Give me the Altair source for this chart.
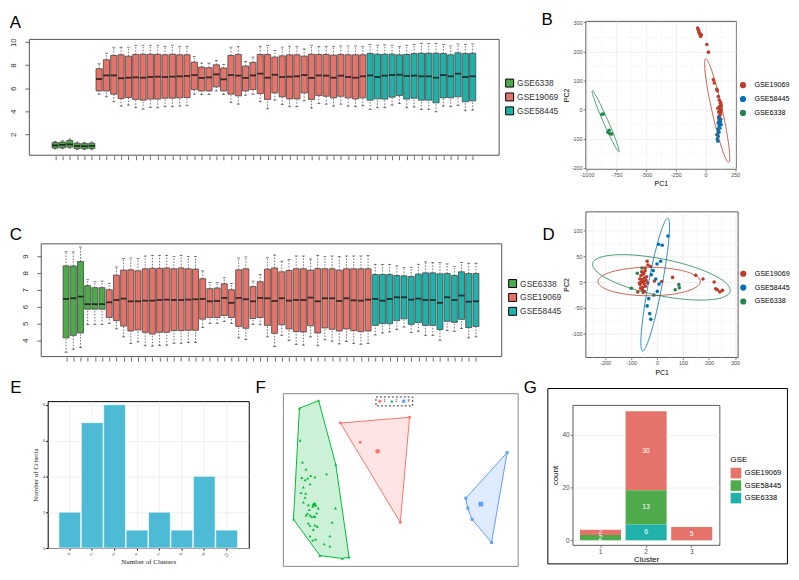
import numpy as np
import pandas as pd
import altair as alt

SANS = "Liberation Sans"
SERIF = "Liberation Serif"

GREEN = "#4FAA4B"
SALMON = "#E5736A"
TEAL = "#20B2AA"
N_RED = "#BC3C29"
N_BLUE = "#0072B5"
N_GREEN = "#20854E"

# ---------------- Panel A (boxplots, raw) ----------------
A_groups = ["GSE6338", "GSE19069", "GSE58445"]
A_sizes = [6, 37, 15]
A_high = [1.38, 1.42, 1.58, 1.32, 1.30, 1.32,
          8.12, 9.04, 9.56, 9.56, 9.56, 9.70, 9.73, 9.73, 9.73, 9.64, 9.73, 9.64, 9.64, 8.75, 8.18, 8.18, 8.41, 8.06, 9.56,
          9.64, 8.32, 8.70, 9.64, 9.70, 9.27, 9.56, 9.64, 9.64, 9.41, 9.73, 9.61, 9.64, 9.61, 9.67, 9.67, 9.67, 9.64,
          9.79, 9.73, 9.76, 9.73, 9.61, 9.73, 9.79, 9.87, 9.87, 9.90, 9.79, 9.67, 9.84, 9.82, 9.84]
A_q3 = [1.28, 1.32, 1.45, 1.22, 1.20, 1.22,
        7.69, 8.47, 8.84, 8.90, 8.78, 8.93, 8.95, 8.95, 8.95, 8.90, 8.95, 8.90, 8.90, 8.26, 7.83, 7.78, 8.03, 7.75, 8.84,
        8.93, 7.92, 8.24, 8.93, 8.93, 8.70, 8.81, 8.90, 8.90, 8.78, 8.95, 8.93, 8.93, 8.87, 8.93, 8.90, 8.90, 8.90,
        9.01, 8.95, 8.95, 8.95, 8.90, 8.93, 9.01, 9.04, 9.04, 9.04, 9.01, 8.90, 9.07, 9.01, 9.04]
A_med = [1.03, 1.08, 1.12, 0.98, 0.96, 0.98,
         6.80, 7.11, 7.11, 6.86, 6.91, 6.94, 6.91, 6.97, 7.00, 6.97, 7.00, 7.03, 7.06, 7.14, 6.89, 6.94, 7.20, 6.77, 7.14,
         7.09, 6.89, 7.11, 7.26, 6.91, 7.17, 6.97, 7.00, 7.03, 7.14, 6.89, 7.11, 7.09, 6.91, 7.09, 6.97, 6.91, 7.03,
         7.11, 6.97, 7.09, 7.14, 7.17, 7.06, 7.09, 7.03, 7.03, 6.91, 7.14, 7.03, 7.26, 6.97, 7.03]
A_q1 = [0.80, 0.82, 0.88, 0.75, 0.74, 0.76,
        5.76, 5.76, 5.48, 5.10, 5.19, 5.02, 4.96, 5.05, 5.05, 5.13, 5.13, 5.16, 5.19, 5.88, 5.76, 5.76, 6.11, 5.76, 5.48,
        5.33, 5.76, 5.88, 5.53, 5.02, 5.59, 5.25, 5.07, 5.07, 5.59, 5.02, 5.36, 5.30, 5.16, 5.30, 5.16, 5.07, 5.16,
        4.96, 5.07, 5.05, 5.22, 5.36, 5.05, 5.13, 4.96, 4.96, 4.73, 5.16, 5.16, 5.25, 4.82, 4.90]
A_low = [0.72, 0.74, 0.80, 0.66, 0.66, 0.68,
         5.48, 5.25, 4.82, 4.44, 4.53, 4.30, 4.18, 4.33, 4.30, 4.39, 4.39, 4.44, 4.47, 5.48, 5.45, 5.45, 5.76, 5.45, 4.76,
         4.61, 5.39, 5.48, 4.82, 4.21, 4.96, 4.59, 4.39, 4.39, 4.90, 4.27, 4.67, 4.61, 4.44, 4.61, 4.44, 4.39, 4.47,
         4.16, 4.30, 4.30, 4.53, 4.67, 4.30, 4.36, 4.16, 4.16, 3.95, 4.44, 4.39, 4.50, 4.04, 4.10]

# ---------------- Panel C (boxplots, normalized) ----------------
C_high = [9.25, 9.24, 9.53, 7.59, 7.47, 7.51,
          7.37, 8.35, 8.84, 8.88, 8.84, 9.00, 9.04, 9.04, 9.04, 8.96, 9.04, 8.98, 8.96, 8.12, 7.43, 7.43, 7.71, 7.37, 8.88,
          8.94, 7.51, 7.90, 8.90, 9.06, 8.69, 8.80, 9.00, 9.00, 8.82, 9.04, 8.96, 9.00, 8.96, 9.00, 9.00, 9.00, 9.02,
          8.51, 8.49, 8.49, 8.41, 8.31, 8.31, 8.51, 8.65, 8.61, 8.61, 8.53, 8.37, 8.61, 8.57, 8.57]
C_q3 = [8.41, 8.41, 8.67, 7.24, 7.12, 7.12,
        7.00, 7.86, 8.16, 8.18, 8.12, 8.24, 8.27, 8.27, 8.29, 8.24, 8.29, 8.24, 8.22, 7.65, 7.06, 7.10, 7.35, 7.00, 8.18,
        8.24, 7.18, 7.47, 8.22, 8.29, 8.06, 8.14, 8.24, 8.24, 8.16, 8.25, 8.24, 8.24, 8.16, 8.24, 8.24, 8.24, 8.24,
        7.90, 7.90, 7.90, 7.84, 7.82, 7.78, 7.92, 8.00, 8.00, 7.94, 7.96, 7.84, 8.06, 7.96, 7.96]
C_med = [6.45, 6.49, 6.59, 6.14, 6.14, 6.14,
         6.25, 6.39, 6.47, 6.31, 6.31, 6.35, 6.35, 6.39, 6.41, 6.39, 6.39, 6.41, 6.43, 6.45, 6.31, 6.33, 6.51, 6.22, 6.51,
         6.43, 6.31, 6.51, 6.49, 6.33, 6.49, 6.35, 6.39, 6.39, 6.53, 6.31, 6.49, 6.49, 6.33, 6.49, 6.37, 6.35, 6.41,
         6.45, 6.35, 6.45, 6.55, 6.55, 6.41, 6.47, 6.39, 6.39, 6.22, 6.55, 6.39, 6.65, 6.29, 6.31]
C_q1 = [4.14, 4.29, 4.43, 5.84, 5.84, 5.84,
        5.35, 5.16, 4.84, 4.55, 4.61, 4.47, 4.37, 4.47, 4.47, 4.57, 4.57, 4.59, 4.59, 5.25, 5.35, 5.35, 5.47, 5.35, 4.82,
        4.71, 5.29, 5.35, 4.88, 4.41, 4.92, 4.67, 4.51, 4.49, 4.86, 4.43, 4.73, 4.65, 4.55, 4.67, 4.57, 4.51, 4.55,
        4.88, 4.98, 4.98, 5.16, 5.27, 4.94, 5.04, 4.88, 4.88, 4.63, 5.12, 5.06, 5.24, 4.75, 4.82]
C_low = [3.29, 3.47, 3.57, 4.94, 4.94, 4.94,
         5.00, 4.67, 4.20, 3.80, 3.90, 3.67, 3.65, 3.69, 3.71, 3.82, 3.82, 3.86, 3.86, 4.76, 5.00, 5.00, 5.12, 5.00, 4.14,
         4.04, 4.94, 4.92, 4.20, 3.63, 4.29, 3.98, 3.75, 3.71, 4.20, 3.67, 4.02, 3.94, 3.78, 3.92, 3.80, 3.76, 3.80,
         4.31, 4.43, 4.49, 4.63, 4.78, 4.45, 4.53, 4.29, 4.29, 4.00, 4.57, 4.53, 4.69, 4.14, 4.20]

# ---------------- Panels B / D (PCA) ----------------
PCA_groups = ["GSE19069", "GSE58445", "GSE6338"]
B_x = {
    "GSE19069": [-66, -58, -50, -41, -55, -36, 11, 25, 66, 74, 99, 115, 126, 121, 132, 110, 124, 110, 129, 113, 118, 132, 104,
                 -62, -47, 120, 128, 118, 125, 131, 116, 122, 127, 108, 95, 120, 113],
    "GSE58445": [115, 121, 107, 115, 104, 110, 102, 107, 99, 104, 126, 132, 121, 113, 96],
    "GSE6338": [-874, -863, -813, -805, -791, -824],
}
B_y = {
    "GSE19069": [281, 272, 260, 252, 266, 258, 224, 198, 103, 92, 65, 33, 22, 8, -1, -8, -16, -26, -33, -41, -49, 16, 5,
                 276, 262, 12, -10, -20, 0, 10, -35, -45, 25, 45, 70, -5, -30],
    "GSE58445": [-26, -35, -46, -56, -67, -75, -84, -92, -101, -109, -41, -52, -64, -78, -86],
    "GSE6338": [-16, -15, -71, -83, -84, -78],
}
# ellipse: centre (cx, cy), semi-axis vectors a=(ax, ay), b=(bx, by)
B_ell = {"GSE19069": (98, -3, 96, -178, 45, 0), "GSE6338": (-843, -40, -112, 105, 22, 0)}

D_x = {
    "GSE19069": [-38, -35, -25, -51, -46, 60, 149, 177, 220, 226, 232, 242, 252, 18, -10, -74,
                 -65, -60, -58, -55, -52, -50, -48, -62, -57, -54, -45, -42, -66, -63, -49, -40, -36, -59, -68, -53, -46],
    "GSE58445": [42, 6, 20, 14, 0, -15, -22, -5, 8, 1, -12, -32, -38, -28, -24],
    "GSE6338": [-76, -99, -58, 70, 84, 86],
}
D_y = {
    "GSE19069": [40, 33, 30, 17, 27, 9, 13, 6, 0, -13, -15, -19, -16, 1, 2, -19,
                 -5, 0, 5, -10, 2, -3, 8, 12, -15, 15, -8, 3, 6, -12, -18, 10, -2, 20, -2, -20, 22],
    "GSE58445": [89, 73, 71, 40, 35, 22, 14, 6, -4, -18, -25, -32, -46, -61, -72],
    "GSE6338": [17, -12, 27, -15, -5, -11],
}
D_ell = {"GSE19069": (-30, 1, 197, 0, 0, 27.5), "GSE58445": (-7, -5, 48, 128, 27, 0),
         "GSE6338": (17, 9, 265, -25, 0, 36)}

# ---------------- Panel E ----------------
E_clusters = ["0", "2", "3", "4", "5", "6", "9", "15"]
E_counts = [2, 7, 8, 1, 2, 1, 4, 1]

# ---------------- Panel F (cluster map) ----------------
F_x = {
    "1": [17.4, 38.3, 35.5, 23.4],
    "2": [5.2, 5.9, 7.0, 5.7, 6.7, 7.5, 8.4, 9.7, 13.2, 6.2, 8.2, 5.5, 6.9, 6.7, 6.2, 7.7, 9.2, 9.7, 9.0, 10.0, 10.7,
          7.4, 8.2, 8.7, 9.4, 7.0, 9.7, 7.7, 14.9, 8.2, 9.7, 10.4, 9.2, 14.2, 8.2, 9.0, 9.9, 12.5, 14.2, 15.9, 8.0, 10.2,
          5.0, 10.8, 16.0, 20.0, 18.0, 11.2, 3.2],
    "3": [67.8, 63.1, 57.2, 55.9, 55.3],
}
F_y = {
    "1": [44.5, 46.3, 13.5, 38.5],
    "2": [39.1, 32.3, 30.1, 27.5, 26.8, 27.3, 28.1, 27.7, 28.6, 24.5, 25.5, 22.8, 22.6, 21.3, 19.8, 19.0, 19.3, 19.5,
          18.5, 18.8, 18.0, 16.3, 15.8, 15.3, 15.5, 15.8, 15.3, 13.3, 13.6, 12.6, 12.7, 12.3, 11.3, 9.3, 9.3, 8.0, 8.3,
          6.8, 6.1, 18.0, 17.5, 16.5, 49.1, 51.5, 31.5, 2.7, 2.3, 3.2, 14.5],
    "3": [35.3, 7.3, 14.5, 18.0, 21.1],
}
F_colors = {"1": "#F8766D", "2": "#00BA38", "3": "#619CFF"}
F_shapes = {"1": "circle", "2": "triangle-up", "3": "square"}

# ---------------- Panel G ----------------
G_cluster = ["1", "1", "2", "2", "2", "3"]
G_gse = ["GSE19069", "GSE58445", "GSE19069", "GSE58445", "GSE6338", "GSE19069"]
G_count = [2, 2, 30, 13, 6, 5]
G_levels = ["GSE19069", "GSE58445", "GSE6338"]
G_colors = [SALMON, GREEN, TEAL]


def letter(t, dx, offset):
    return alt.TitleParams(t, anchor="start", frame="group", dx=dx, offset=offset, fontSize=17,
                           font=SANS, fontWeight="normal", color="black")


def spacer(w, h):
    return alt.Chart(pd.DataFrame({"s": [0]})).mark_point(size=0, opacity=0).encode(
        x=alt.X("s:Q", axis=None), y=alt.Y("s:Q", axis=None)
    ).properties(width=w, height=h, view=alt.ViewBackground(stroke="transparent"))


def anchor(w, h, top):
    # invisible layout anchor: fixes the top edge of the whole figure
    return alt.Chart(pd.DataFrame({"s": [0]})).mark_point(size=1, opacity=0, filled=True, strokeWidth=0).encode(
        x=alt.value(0), y=alt.value(top)
    ).properties(width=w, height=h, view=alt.ViewBackground(stroke="transparent"))


RES = dict(x="independent", y="independent", color="independent", shape="independent",
           stroke="independent", fill="independent")


def box_panel(low, q1, med, q3, high, xdom, ydom, yticks, w, h, bw, lx, ly, title):
    grp = [g for g, n in zip(A_groups, A_sizes) for _ in range(n)]
    n = len(med)
    df = pd.DataFrame({"i": np.arange(1, n + 1), "grp": grp, "low": low, "q1": q1,
                       "med": med, "q3": q3, "high": high})
    x = alt.X("i:Q", scale=alt.Scale(domain=xdom, nice=False, zero=False),
              axis=alt.Axis(values=list(range(1, n + 1)), labels=False, domain=False, grid=False,
                            tickSize=4, tickColor="#444", tickWidth=0.8, offset=1, title=None))
    ysc = alt.Scale(domain=ydom, nice=False, zero=False)
    yax = alt.Axis(values=yticks, labelAngle=-90, labelAlign="center", labelBaseline="bottom", grid=False,
                   domain=False, tickSize=4, tickColor="#444", tickWidth=0.8, labelPadding=7, labelFontSize=8,
                   labelColor="#333", labelFont=SANS, title=None)

    def Y(f):
        return alt.Y(f, scale=ysc, axis=yax)

    base = alt.Chart(df)
    wl = base.mark_rule(strokeDash=[1.5, 1.5], color="#333", strokeWidth=0.7).encode(x=x, y=Y("low:Q"), y2="q1:Q")
    wh = base.mark_rule(strokeDash=[1.5, 1.5], color="#333", strokeWidth=0.7).encode(x=x, y=Y("q3:Q"), y2="high:Q")
    cl = base.mark_tick(orient="horizontal", size=3, thickness=0.8, color="#222").encode(x=x, y=Y("low:Q"))
    ch = base.mark_tick(orient="horizontal", size=3, thickness=0.8, color="#222").encode(x=x, y=Y("high:Q"))
    box = base.mark_bar(width=bw, stroke="#444", strokeWidth=0.8).encode(
        x=x, y=Y("q1:Q"), y2="q3:Q",
        color=alt.Color("grp:N", scale=alt.Scale(domain=A_groups, range=[GREEN, SALMON, TEAL]),
                        legend=alt.Legend(orient="none", legendX=lx, legendY=ly, title=None, symbolType="square",
                                          symbolSize=64, symbolStrokeColor="black", symbolStrokeWidth=1,
                                          labelFontSize=8.5, labelFont=SANS, labelColor="#333", labelOffset=3,
                                          rowPadding=1, padding=0)))
    md = base.mark_tick(orient="horizontal", size=bw, thickness=1.8, color="black").encode(x=x, y=Y("med:Q"))
    return alt.layer(wl, wh, cl, ch, box, md).properties(
        width=w, height=h, view=alt.ViewBackground(stroke="#555", strokeWidth=1), title=title)


def num_axis(title, majors, minors, lab_fs=5.5, tfs=7, tpad=2):
    vals = sorted(majors + minors)
    mj = "[" + ",".join(str(v) for v in majors) + "]"
    return alt.Axis(values=vals, labelExpr=f"indexof({mj}, datum.value) >= 0 ? '' + datum.value : ''",
                    labelOverlap=False, labelFlush=False,
                    tickColor={"condition": {"test": f"indexof({mj}, datum.value) < 0", "value": "transparent"},
                               "value": "#333333"},
                    gridColor={"condition": {"test": f"indexof({mj}, datum.value) < 0", "value": "#F3F3F3"},
                               "value": "#E6E6E6"},
                    gridWidth=0.6, domain=False, tickSize=2.5, tickWidth=0.6, labelFontSize=lab_fs,
                    labelColor="#4D4D4D", labelPadding=1, labelFont=SANS, title=title, titleFontSize=tfs,
                    titleFont=SANS, titleFontWeight="normal", titleColor="black", titlePadding=tpad)


def ell_points(p):
    cx, cy, ax, ay, bx, by = p
    t = np.linspace(0, 2 * np.pi, 121)
    return cx + ax * np.cos(t) + bx * np.sin(t), cy + ay * np.cos(t) + by * np.sin(t)


def pca_panel(px, py, ells, xdom, ydom, xmaj, xmin, ymaj, ymin, w, h, lx, ly, title):
    rows = []
    for g in PCA_groups:
        for a, b in zip(px[g], py[g]):
            rows.append({"x": a, "y": b, "g": g})
    dfp = pd.DataFrame(rows)
    erows = []
    for g, p in ells.items():
        ex, ey = ell_points(p)
        for k, (a, b) in enumerate(zip(ex, ey)):
            erows.append({"x": a, "y": b, "g": g, "o": k})
    dfe = pd.DataFrame(erows)
    X = alt.X("x:Q", scale=alt.Scale(domain=xdom, nice=False, zero=False), axis=num_axis("PC1", xmaj, xmin))
    Yc = alt.Y("y:Q", scale=alt.Scale(domain=ydom, nice=False, zero=False), axis=num_axis("PC2", ymaj, ymin))
    sc = alt.Scale(domain=PCA_groups, range=[N_RED, N_BLUE, N_GREEN])
    pts = alt.Chart(dfp).mark_circle(size=13, opacity=1).encode(
        x=X, y=Yc,
        color=alt.Color("g:N", scale=sc,
                        legend=alt.Legend(orient="none", legendX=lx, legendY=ly, title=None, symbolType="circle",
                                          symbolSize=22, labelFontSize=7.2, labelFont=SANS, labelColor="black",
                                          labelOffset=8, rowPadding=3, padding=0)))
    el = alt.Chart(dfe).mark_line(strokeWidth=0.8).encode(
        x=X, y=Yc, stroke=alt.Stroke("g:N", scale=sc, legend=None), order="o:Q", detail="g:N")
    return alt.layer(pts, el).properties(width=w, height=h,
                                         view=alt.ViewBackground(stroke="#333", strokeWidth=0.8), title=title)


# ---- A, C
chartA = box_panel(A_low, A_q1, A_med, A_q3, A_high, [-1.918, 60.87], [0.22, 10.28], [2, 4, 6, 8, 10],
                   473.4, 116.7, 6.2, 480, 40, letter("A", -19.3, 5.8))
chartC = box_panel(C_low, C_q1, C_med, C_q3, C_high, [-1.836, 60.83], [3.06, 9.75], [4, 5, 6, 7, 8, 9],
                   464, 113.6, 6.0, 471, 36, letter("C", -31.3, -0.9))

# ---- B, D
chartB = pca_panel(B_x, B_y, B_ell, [-1012, 258], [-204, 305],
                   [-1000, -750, -500, -250, 0, 250], [-875, -625, -375, -125, 125],
                   [-200, -100, 0, 100, 200, 300], [-150, -50, 50, 150, 250],
                   151.7, 149, 155, 61, letter("B", -44.3, -8.3))
chartD = pca_panel(D_x, D_y, D_ell, [-275, 311], [-145, 136],
                   [-200, -100, 0, 100, 200, 300], [-250, -150, -50, 50, 150, 250],
                   [-100, -50, 0, 50, 100], [-125, -75, -25, 25, 75, 125],
                   153.4, 146.7, 155.3, 59, letter("D", -43.3, -32.6))

# ---- E
dfE = pd.DataFrame({"k": E_clusters, "v": E_counts})
chartE = alt.Chart(dfE).mark_bar(color="#4DBBD5", stroke="white", strokeWidth=0.6).encode(
    x=alt.X("k:N", sort=E_clusters, scale=alt.Scale(paddingInner=0.03, paddingOuter=0.5),
            axis=alt.Axis(labelAngle=45, labelFontSize=4.5, labelFont=SERIF, labelColor="#333", tickSize=2,
                          tickColor="black", domain=False, grid=True, gridColor="#E5E5E5", gridWidth=0.6,
                          labelPadding=1, title="Number of Clusters", titleFont=SERIF, titleFontSize=7,
                          titleFontWeight="normal", titleColor="#222", titlePadding=0)),
    y=alt.Y("v:Q", scale=alt.Scale(domain=[0, 8.2], nice=False),
            axis=alt.Axis(values=[0, 2, 4, 6, 8], labelFontSize=4.5, labelFont=SERIF, labelColor="#333",
                          tickSize=2, tickColor="black", domain=False, grid=True, gridColor="#E5E5E5",
                          gridWidth=0.6, labelPadding=1, title="Number of Criteria", titleFont=SERIF,
                          titleFontSize=7, titleFontWeight="normal", titleColor="#222", titlePadding=4)),
).properties(width=202.6, height=148, view=alt.ViewBackground(stroke="black", strokeWidth=1),
             title=letter("E", -37.7, 3.7))


# ---- F
def convex_hull(xs, ys):
    pts = sorted(set(zip(xs, ys)))

    def cross(o, a, b):
        return (a[0] - o[0]) * (b[1] - o[1]) - (a[1] - o[1]) * (b[0] - o[0])

    lower, upper = [], []
    for p in pts:
        while len(lower) >= 2 and cross(lower[-2], lower[-1], p) <= 0:
            lower.pop()
        lower.append(p)
    for p in reversed(pts):
        while len(upper) >= 2 and cross(upper[-2], upper[-1], p) <= 0:
            upper.pop()
        upper.append(p)
    return lower[:-1] + upper[:-1]


prow, crow = [], []
for c in ["1", "2", "3"]:
    for a, b in zip(F_x[c], F_y[c]):
        prow.append({"x": a, "y": b, "cl": c})
    crow.append({"x": float(np.mean(F_x[c])), "y": float(np.mean(F_y[c])), "cl": c})
dfF = pd.DataFrame(prow)
dfFc = pd.DataFrame(crow)
FX = alt.X("x:Q", scale=alt.Scale(domain=[0, 71], nice=False, zero=False), axis=None)
FY = alt.Y("y:Q", scale=alt.Scale(domain=[0, 53.8], nice=False, zero=False), axis=None)
f_leg = alt.Legend(orient="none", legendX=93.3, legendY=3.3, direction="horizontal", title=None,
                   strokeColor="#333", padding=2, labelFontSize=4, symbolSize=10, labelOffset=1,
                   columnPadding=3, labelFont=SANS)
fcol = alt.Color("cl:N", scale=alt.Scale(domain=["1", "2", "3"], range=[F_colors[c] for c in "123"]), legend=f_leg)
fshp = alt.Shape("cl:N", scale=alt.Scale(domain=["1", "2", "3"], range=[F_shapes[c] for c in "123"]), legend=f_leg)
f_layers = []
for c in ["1", "2", "3"]:
    hp = convex_hull(F_x[c], F_y[c])
    dfh = pd.DataFrame({"x": [p[0] for p in hp], "y": [p[1] for p in hp], "o": list(range(len(hp)))})
    f_layers.append(alt.Chart(dfh).mark_line(interpolate="linear-closed", fill=F_colors[c], fillOpacity=0.2,
                                             stroke=F_colors[c], strokeWidth=1).encode(x=FX, y=FY, order="o:Q"))
f_layers.append(alt.Chart(dfF).mark_point(filled=True, size=9, opacity=1).encode(x=FX, y=FY, color=fcol, shape=fshp))
f_layers.append(alt.Chart(dfFc).mark_point(filled=True, size=22, opacity=1).encode(x=FX, y=FY, color=fcol, shape=fshp))
chartF = alt.layer(*f_layers).properties(width=236.6, height=174,
                                         view=alt.ViewBackground(stroke="#888", strokeWidth=1),
                                         title=letter("F", -27.7, -3.9))

# ---- G
dfG = pd.DataFrame({"cl": G_cluster, "gse": G_gse, "n": G_count})
gbase = alt.Chart(dfG).transform_calculate(
    ord="indexof(['GSE6338','GSE58445','GSE19069'], datum.gse)"
).transform_stack(stack="n", groupby=["cl"], sort=[alt.SortField("ord", order="ascending")], as_=["y0", "y1"]
                  ).transform_calculate(mid="(datum.y0 + datum.y1) / 2")
GX = alt.X("cl:N", scale=alt.Scale(paddingInner=0.1, paddingOuter=0.16),
           axis=alt.Axis(labelAngle=0, labelFontSize=6.5, labelColor="#4D4D4D", tickSize=2.5, tickColor="#333",
                         tickWidth=0.6, domain=False, gridColor="#EBEBEB", gridWidth=0.6, labelPadding=1,
                         title="Cluster", titleFontSize=8, titleFontWeight="normal", titleColor="black",
                         titlePadding=1, labelFont=SANS, titleFont=SANS))
GY = alt.Y("y0:Q", scale=alt.Scale(domain=[-1.8, 51.3], nice=False, zero=False),
           axis=alt.Axis(values=list(range(0, 55, 5)), labelExpr="datum.value % 10 == 0 ? '' + datum.value : ''",
                         labelOverlap=False,
                         tickColor={"condition": {"test": "datum.value % 10 != 0", "value": "transparent"},
                                    "value": "#333333"},
                         gridColor={"condition": {"test": "datum.value % 10 != 0", "value": "#F3F3F3"},
                                    "value": "#E6E6E6"},
                         gridWidth=0.6, domain=False, tickSize=2.5, tickWidth=0.6, labelFontSize=6.5,
                         labelColor="#4D4D4D", labelPadding=1, title="count", titleFontSize=8,
                         titleFontWeight="normal", titleColor="black", titlePadding=3, labelFont=SANS,
                         titleFont=SANS))
gbars = gbase.mark_bar().encode(
    x=GX, y=GY, y2="y1:Q",
    color=alt.Color("gse:N", scale=alt.Scale(domain=G_levels, range=G_colors),
                    legend=alt.Legend(orient="none", legendX=159, legendY=51, title="GSE", titleFontSize=8,
                                      titleFontWeight="normal", titleColor="black", titlePadding=4,
                                      titleFont=SANS, symbolType="square", symbolSize=114, symbolStrokeWidth=0,
                                      labelFontSize=7.5, labelFont=SANS, labelColor="black", labelOffset=3.5,
                                      rowPadding=1.6, padding=0)))
gtext = gbase.mark_text(color="white", fontSize=7, font=SANS).encode(
    x=GX, y=alt.Y("mid:Q", scale=alt.Scale(domain=[-1.8, 51.3], nice=False, zero=False)), text="n:Q")
gframe = alt.Chart(pd.DataFrame({"z": [0]})).mark_rect(fill="transparent", stroke="black", strokeWidth=1).encode(
    x=alt.value(-25), x2=alt.value(216.4), y=alt.value(-16.7), y2=alt.value(160))
chartG = alt.layer(gbars, gtext, gframe).properties(width=148, height=141,
                                                    view=alt.ViewBackground(stroke="#333", strokeWidth=0.8),
                                                    title=letter("G", -49.3, -9.3))

# ---- layout
# Grid origin = page (8, 16): the anchor reaches 8 px above it, so the figure top is fixed.
# In a flush concat a nested concat takes no room, so every panel sits in its own column
# (a vertical spacer above it) and horizontal spacers between the columns set the x positions.
S = spacer


def V(*c):
    return alt.vconcat(*c, spacing=0, bounds="flush").resolve_scale(**RES)


cols = [
    anchor(19.3, 1, -7.5), V(S(1, 19), chartA),
    S(12, 1), V(S(1, 224.7), chartC),
    S(6.4, 1), V(S(1, 383.3), chartE),
    S(237, 1), V(S(1, 375.7), chartF),
    S(291.6, 1), V(S(1, 388), chartG),
    S(13, 1), V(S(1, 0.7), chartB), V(S(1, 193), chartD),
]

chart = alt.hconcat(*cols, spacing=0, bounds="flush").resolve_scale(**RES).properties(
    padding=0).configure(font=SANS).configure_legend(strokeDash=[2, 2]).configure_view(stroke="transparent")

chart.save("out.html", embed_options={"renderer": "svg", "actions": False})
